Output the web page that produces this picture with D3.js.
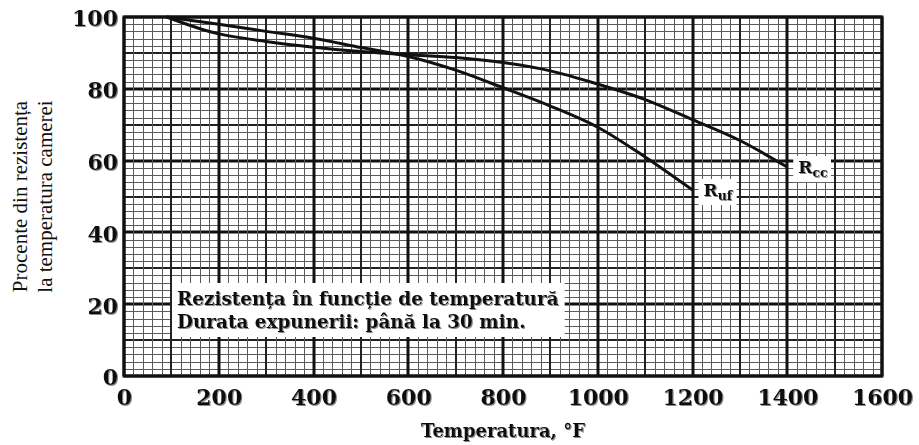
<!DOCTYPE html>
<html>
<head>
<meta charset="utf-8">
<script src="https://cdn.jsdelivr.net/npm/d3@7"></script>
<style>
  body { margin: 0; background: #fff; }
  svg { display: block; }
  .tick-label { font-family: "DejaVu Serif", serif; font-weight: bold; fill: #111; }
</style>
</head>
<body>
<div id="chart"></div>
<script>
/* CONSTANTS AND DATA */
const width = 919,
  height = 445,
  margin = { top: 17, right: 37, bottom: 69, left: 124 };

// temperature (°F) and percent of room-temperature strength
const rccTemp = [90, 150, 200, 300, 400, 500, 600, 700, 800, 900, 1000, 1100, 1200, 1300, 1400];
const rccPct = [100, 97.2, 95.3, 93.2, 91.6, 90.4, 89.5, 88.7, 87.3, 85, 81.3, 77, 71.4, 65.6, 58.2];
const rufTemp = [90, 200, 300, 400, 500, 600, 700, 800, 900, 1000, 1100, 1200];
const rufPct = [100, 98, 96, 94.1, 91.5, 89, 85.2, 80.3, 75.2, 69.3, 61, 51.8];

const xTicks = [0, 200, 400, 600, 800, 1000, 1200, 1400, 1600];
const yTicks = [0, 20, 40, 60, 80, 100];

const seriesNames = ["cc", "uf"];
const noteLines = ["Rezistența în funcție de temperatură", "Durata expunerii: până la 30 min."];
const xTitle = "Temperatura, °F";
const yTitleLines = ["Procente din rezistența", "la temperatura camerei"];

const rcc = rccTemp.map((t, i) => ({ t, p: rccPct[i] }));
const ruf = rufTemp.map((t, i) => ({ t, p: rufPct[i] }));

/* SCALES */
const xScale = d3.scaleLinear().domain([0, 1600]).range([margin.left, width - margin.right]);
const yScale = d3.scaleLinear().domain([0, 100]).range([height - margin.bottom, margin.top]);

const svg = d3.select("#chart").append("svg")
  .attr("width", width)
  .attr("height", height);

// grey shadow under the bold labels
const defs = svg.append("defs");
defs.append("filter").attr("id", "shadow")
  .attr("x", "-10%").attr("y", "-10%").attr("width", "120%").attr("height", "130%")
  .append("feDropShadow")
  .attr("dx", 1).attr("dy", 1).attr("stdDeviation", 0)
  .attr("flood-color", "#8a8a8a");

/* GRID */
const grid = svg.append("g").attr("class", "grid");
const x0 = xScale.range()[0], x1 = xScale.range()[1];
const y0 = yScale.range()[0], y1 = yScale.range()[1];

// minor, medium, major lines
const vLines = d3.range(0, 1601, 20).map(v => ({
  v, kind: v % 200 === 0 ? "major" : v % 100 === 0 ? "mid" : "minor"
}));
const hLines = d3.range(0, 101, 2).map(v => ({
  v, kind: v % 20 === 0 ? "major" : v % 10 === 0 ? "mid" : "minor"
}));
const strokeW = { minor: 1, mid: 2, major: 3 };
const strokeC = { minor: "#5a5a5a", mid: "#222", major: "#111" };
const order = { minor: 0, mid: 1, major: 2 };

grid.selectAll("line.h")
  .data(hLines.slice().sort((a, b) => order[a.kind] - order[b.kind]))
  .join("line")
  .attr("class", "h")
  .attr("x1", x0).attr("x2", x1)
  .attr("y1", d => Math.round(yScale(d.v)) + (d.kind === "minor" ? 0.5 : 0))
  .attr("y2", d => Math.round(yScale(d.v)) + (d.kind === "minor" ? 0.5 : 0))
  .attr("stroke", d => strokeC[d.kind])
  .attr("stroke-width", d => strokeW[d.kind]);

grid.selectAll("line.v")
  .data(vLines.slice().sort((a, b) => order[a.kind] - order[b.kind]))
  .join("line")
  .attr("class", "v")
  .attr("y1", y0).attr("y2", y1)
  .attr("x1", d => Math.round(xScale(d.v)) + (d.kind === "minor" ? 0.5 : 0))
  .attr("x2", d => Math.round(xScale(d.v)) + (d.kind === "minor" ? 0.5 : 0))
  .attr("stroke", d => strokeC[d.kind])
  .attr("stroke-width", d => strokeW[d.kind]);

// frame
svg.append("rect")
  .attr("x", x0).attr("y", y1)
  .attr("width", x1 - x0).attr("height", y0 - y1)
  .attr("fill", "none")
  .attr("stroke", "#111")
  .attr("stroke-width", 3);

/* CURVES */
const lineFunc = d3.line()
  .x(d => xScale(d.t))
  .y(d => yScale(d.p))
  .curve(d3.curveCatmullRom.alpha(0.5));

svg.selectAll("path.curve")
  .data([rcc, ruf])
  .join("path")
  .attr("class", "curve")
  .attr("fill", "none")
  .attr("stroke", "#111")
  .attr("stroke-width", 3)
  .attr("d", d => lineFunc(d));

/* CURVE LABELS */
[rcc, ruf].forEach((s, i) => {
  const end = s[s.length - 1];
  const ex = xScale(end.t), ey = yScale(end.p);
  const g = svg.append("g");
  const bg = g.append("rect").attr("fill", "#fff");
  const txt = g.append("text")
    .attr("class", "tick-label")
    .attr("x", ex + 11)
    .attr("y", ey + 6)
    .attr("font-size", 17)
    .attr("filter", "url(#shadow)");
  txt.append("tspan").text("R");
  txt.append("tspan").attr("dy", 4).attr("font-size", 12.5).text(seriesNames[i]);
  const bb = txt.node().getBBox();
  bg.attr("x", bb.x - 5).attr("y", bb.y - 1)
    .attr("width", bb.width + 8).attr("height", bb.height + 3);
});

/* NOTE BOX */
const note = svg.append("g");
const noteBg = note.append("rect").attr("fill", "#fff");
const noteText = note.append("text")
  .attr("class", "tick-label")
  .attr("font-size", 18.4)
  .attr("filter", "url(#shadow)");
noteText.selectAll("tspan")
  .data(noteLines)
  .join("tspan")
  .attr("x", 177)
  .attr("y", (d, i) => 305 + i * 23)
  .text(d => d);
const nb = noteText.node().getBBox();
noteBg.attr("x", 172).attr("y", 283)
  .attr("width", nb.x + nb.width + 6 - 172)
  .attr("height", 54);

/* AXES */
const xAxis = d3.axisBottom(xScale).tickValues(xTicks).tickFormat(d3.format("d")).tickSize(0).tickPadding(13);
const yAxis = d3.axisLeft(yScale).tickValues(yTicks).tickFormat(d3.format("d")).tickSize(0).tickPadding(6);

svg.append("g")
  .attr("transform", `translate(0, ${y0})`)
  .call(xAxis)
  .call(g => g.select(".domain").remove())
  .selectAll("text")
  .attr("class", "tick-label")
  .attr("font-size", 22)
  .attr("filter", "url(#shadow)");

svg.append("g")
  .attr("transform", `translate(${x0}, 0)`)
  .call(yAxis)
  .call(g => g.select(".domain").remove())
  .selectAll("text")
  .attr("class", "tick-label")
  .attr("font-size", 22)
  .attr("dy", "0.4em")
  .attr("filter", "url(#shadow)");

// axis titles
svg.append("text")
  .attr("class", "tick-label")
  .attr("x", (x0 + x1) / 2)
  .attr("y", 437)
  .attr("text-anchor", "middle")
  .attr("font-size", 18)
  .attr("filter", "url(#shadow)")
  .text(xTitle);

svg.append("text")
  .attr("transform", `translate(0, ${(y0 + y1) / 2}) rotate(-90)`)
  .attr("text-anchor", "middle")
  .attr("font-family", "'Liberation Serif', serif")
  .attr("font-size", 21)
  .attr("fill", "#111")
  .selectAll("tspan")
  .data(yTitleLines)
  .join("tspan")
  .attr("x", 0)
  .attr("y", (d, i) => 27 + i * 25)
  .text(d => d);
</script>
</body>
</html>
